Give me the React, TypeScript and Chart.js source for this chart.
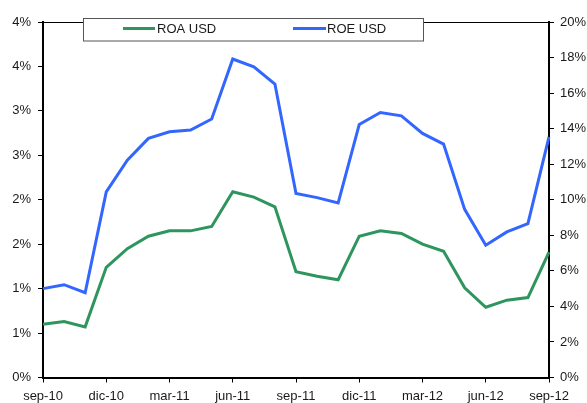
import React, { useEffect, useRef } from "react";
import { Chart, registerables } from "chart.js";

Chart.register(...registerables);

const months = [
  "sep-10", "oct-10", "nov-10", "dic-10", "ene-11", "feb-11", "mar-11", "abr-11", "may-11",
  "jun-11", "jul-11", "ago-11", "sep-11", "oct-11", "nov-11", "dic-11", "ene-12", "feb-12",
  "mar-12", "abr-12", "may-12", "jun-12", "jul-12", "ago-12", "sep-12",
];

const roaUsd = [
  0.60, 0.63, 0.57, 1.24, 1.45, 1.59, 1.65, 1.65, 1.70, 2.09, 2.03, 1.92, 1.19,
  1.14, 1.10, 1.59, 1.65, 1.62, 1.50, 1.42, 1.01, 0.79, 0.87, 0.90, 1.41,
];

const roeUsd = [
  5.00, 5.22, 4.77, 10.44, 12.23, 13.45, 13.82, 13.92, 14.54, 17.92, 17.48, 16.51, 10.35,
  10.12, 9.82, 14.24, 14.91, 14.72, 13.73, 13.13, 9.46, 7.44, 8.19, 8.66, 13.54,
];

const seriesLabels = ["ROA USD", "ROE USD"];
const seriesColors = ["#2E955E", "#3366FF"];

const FONT = "'Liberation Sans', Arial, sans-serif";
const TEXT = "#1a1a1a";

const frameAndLegend = {
  id: "frameAndLegend",
  afterDraw(chart: any) {
    const ctx = chart.ctx;
    const a = chart.chartArea;
    ctx.save();
    // top border of plot area
    ctx.strokeStyle = "#000";
    ctx.lineWidth = 1;
    ctx.beginPath();
    ctx.moveTo(a.left, Math.round(a.top) + 0.5);
    ctx.lineTo(a.right, Math.round(a.top) + 0.5);
    ctx.stroke();
    // legend box
    const bx = 83.5, by = 18.5, bw = 340, bh = 22.5;
    ctx.fillStyle = "#fff";
    ctx.fillRect(bx, by, bw, bh);
    ctx.strokeStyle = "#555";
    ctx.lineWidth = 1;
    ctx.strokeRect(bx, by, bw, bh);
    const items = [
      { x1: 123, x2: 155, tx: 157 },
      { x1: 293, x2: 326, tx: 327 },
    ];
    chart.data.datasets.forEach((ds: any, i: number) => {
      const it = items[i];
      ctx.strokeStyle = ds.borderColor;
      ctx.lineWidth = 3;
      ctx.beginPath();
      ctx.moveTo(it.x1, 28.5);
      ctx.lineTo(it.x2, 28.5);
      ctx.stroke();
      ctx.fillStyle = TEXT;
      ctx.font = `13px ${FONT}`;
      ctx.textBaseline = "middle";
      ctx.textAlign = "left";
      ctx.fillText(ds.label, it.tx, 29);
    });
    ctx.restore();
  },
};

export default function App() {
  const ref = useRef<HTMLCanvasElement>(null);
  useEffect(() => {
    if (!ref.current) return;
    const chart = new Chart(ref.current, {
      type: "line",
      data: {
        labels: months,
        datasets: [
          {
            label: seriesLabels[0],
            data: roaUsd,
            borderColor: seriesColors[0],
            backgroundColor: seriesColors[0],
            borderWidth: 3,
            pointRadius: 0,
            tension: 0,
            yAxisID: "y",
          },
          {
            label: seriesLabels[1],
            data: roeUsd,
            borderColor: seriesColors[1],
            backgroundColor: seriesColors[1],
            borderWidth: 3,
            pointRadius: 0,
            tension: 0,
            yAxisID: "y1",
          },
        ],
      },
      options: {
        animation: false,
        responsive: false,
        layout: { padding: { top: 22, left: 0, right: 0, bottom: 0 } },
        plugins: {
          legend: { display: false },
          tooltip: { enabled: false },
          title: { display: false },
        },
        scales: {
          x: {
            type: "category",
            offset: false,
            grid: { display: true, drawOnChartArea: false, drawTicks: true, tickLength: 5, color: "#000", lineWidth: 1 },
            border: { display: true, color: "#000", width: 2 },
            afterBuildTicks: (scale: any) => {
              scale.ticks = scale.ticks.filter((t: any) => t.value % 3 === 0);
            },
            afterFit: (scale: any) => {
              scale.height = 25.5;
            },
            ticks: {
              autoSkip: false,
              maxRotation: 0,
              minRotation: 0,
              padding: 6,
              color: TEXT,
              font: { family: FONT, size: 13 },
              callback: (v: any) => months[v],
            },
          },
          y: {
            position: "left",
            min: 0,
            max: 4,
            grid: { display: true, drawOnChartArea: false, drawTicks: true, tickLength: 5, color: "#000", lineWidth: 1 },
            border: { display: true, color: "#000", width: 2 },
            afterFit: (scale: any) => {
              scale.width = 43;
            },
            ticks: {
              stepSize: 0.5,
              padding: 7,
              color: TEXT,
              font: { family: FONT, size: 13 },
              callback: (v: any) => Math.round(Number(v)) + "%",
            },
          },
          y1: {
            position: "right",
            min: 0,
            max: 20,
            grid: { display: true, drawOnChartArea: false, drawTicks: true, tickLength: 5, color: "#000", lineWidth: 1 },
            border: { display: true, color: "#000", width: 2 },
            afterFit: (scale: any) => {
              scale.width = 38;
            },
            ticks: {
              stepSize: 2,
              padding: 6,
              color: TEXT,
              font: { family: FONT, size: 13 },
              callback: (v: any) => Math.round(Number(v)) + "%",
            },
          },
        },
      },
      plugins: [frameAndLegend],
    } as any);
    return () => chart.destroy();
  }, []);
  return (
    <div style={{ position: "fixed", left: 0, top: 0, width: 587, height: 403, background: "#fff" }}>
      <canvas ref={ref} width={587} height={403} />
    </div>
  );
}
